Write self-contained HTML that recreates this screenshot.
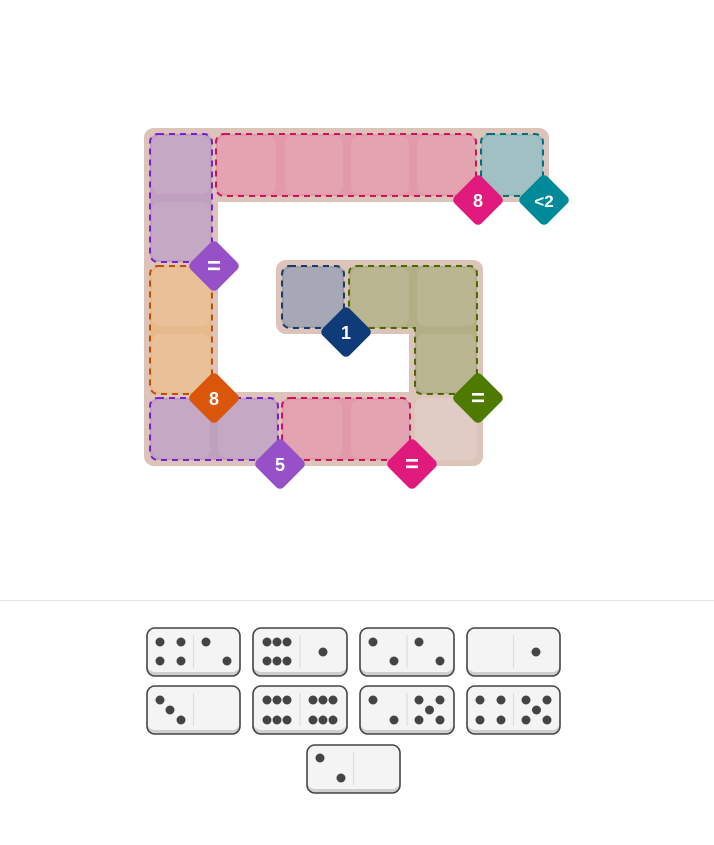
<!DOCTYPE html>
<html><head><meta charset="utf-8"><style>
html,body{margin:0;padding:0;background:#fff;width:714px;height:845px;overflow:hidden}
svg{display:block}
text{font-family:"Liberation Sans",sans-serif;font-weight:bold;fill:#fff;text-anchor:middle}
</style></head><body>
<svg width="714" height="845" viewBox="0 0 714 845">
<g fill="#dcc4ba">
<rect x="144" y="128" width="405" height="74" rx="10"/>
<rect x="144" y="128" width="74" height="338" rx="10"/>
<rect x="144" y="392" width="339" height="74" rx="10"/>
<rect x="276" y="260" width="207" height="74" rx="10"/>
<rect x="409" y="260" width="74" height="206" rx="10"/>
</g>
<g stroke-width="2" stroke-dasharray="6,5">
<rect x="150" y="134" width="62" height="128" rx="8" fill="#c0a0bf" stroke="#7b1fd6"/>
<rect x="216" y="134" width="260" height="62" rx="8" fill="#e29aa9" stroke="#d0105a"/>
<rect x="481" y="134" width="62" height="62" rx="8" fill="#98babd" stroke="#00707c"/>
<rect x="150" y="266" width="62" height="128" rx="8" fill="#e7ba8e" stroke="#c05000"/>
<rect x="282" y="266" width="62" height="62" rx="8" fill="#9ea0ae" stroke="#1a3a70"/>
<path d="M357,266 H469 Q477,266 477,274 V386 Q477,394 469,394 H423 Q415,394 415,386 V328 H357 Q349,328 349,320 V274 Q349,266 357,266 Z" fill="#b2af87" stroke="#4a6a00"/>
<rect x="150" y="398" width="128" height="62" rx="8" fill="#c0a0bf" stroke="#7b1fd6"/>
<rect x="282" y="398" width="128" height="62" rx="8" fill="#e29aa9" stroke="#d0105a"/>
</g>
<rect x="415" y="398" width="62" height="62" rx="8" fill="#e1ccc5"/>
<g fill="#fff" fill-opacity="0.09">
<rect x="152" y="136" width="58" height="58" rx="8"/><rect x="152" y="202" width="58" height="58" rx="8"/>
<rect x="218" y="136" width="58" height="58" rx="8"/><rect x="285" y="136" width="58" height="58" rx="8"/>
<rect x="351" y="136" width="58" height="58" rx="8"/><rect x="417" y="136" width="58" height="58" rx="8"/>
<rect x="483" y="136" width="58" height="58" rx="8"/>
<rect x="152" y="268" width="58" height="58" rx="8"/><rect x="152" y="334" width="58" height="58" rx="8"/>
<rect x="284" y="268" width="58" height="58" rx="8"/><rect x="351" y="268" width="58" height="58" rx="8"/>
<rect x="417" y="268" width="58" height="58" rx="8"/><rect x="417" y="334" width="58" height="58" rx="8"/>
<rect x="152" y="400" width="58" height="58" rx="8"/><rect x="218" y="400" width="58" height="58" rx="8"/>
<rect x="284" y="400" width="58" height="58" rx="8"/><rect x="351" y="400" width="58" height="58" rx="8"/>
</g>
<g>
<rect x="459" y="181" width="38" height="38" rx="5" fill="#e0197d" transform="rotate(45 478 200)"/>
<text x="478" y="207" font-size="18">8</text>
<rect x="525" y="181" width="38" height="38" rx="5" fill="#008a99" transform="rotate(45 544 200)"/>
<text x="544" y="207" font-size="17">&lt;2</text>
<rect x="195" y="247" width="38" height="38" rx="5" fill="#9650c8" transform="rotate(45 214 266)"/>
<text x="214" y="274" font-size="24">=</text>
<rect x="327" y="313" width="38" height="38" rx="5" fill="#0f3b78" transform="rotate(45 346 332)"/>
<text x="346" y="339" font-size="18">1</text>
<rect x="195" y="379" width="38" height="38" rx="5" fill="#d9560b" transform="rotate(45 214 398)"/>
<text x="214" y="405" font-size="18">8</text>
<rect x="459" y="379" width="38" height="38" rx="5" fill="#4f7a00" transform="rotate(45 478 398)"/>
<text x="478" y="406" font-size="24">=</text>
<rect x="261" y="445" width="38" height="38" rx="5" fill="#9650c8" transform="rotate(45 280 464)"/>
<text x="280" y="471" font-size="18">5</text>
<rect x="393" y="445" width="38" height="38" rx="5" fill="#e0197d" transform="rotate(45 412 464)"/>
<text x="412" y="472" font-size="24">=</text>
</g>
<line x1="0" y1="600.5" x2="714" y2="600.5" stroke="#e2e2e2"/>
<g>
<rect x="147" y="628" width="93" height="48" rx="8" fill="#cfcfcf"/><rect x="147" y="628" width="93" height="44" rx="8" fill="#f4f4f4"/><rect x="147" y="628" width="93" height="48" rx="8" fill="none" stroke="#444" stroke-width="1.6"/>
<rect x="253" y="628" width="94" height="48" rx="8" fill="#cfcfcf"/><rect x="253" y="628" width="94" height="44" rx="8" fill="#f4f4f4"/><rect x="253" y="628" width="94" height="48" rx="8" fill="none" stroke="#444" stroke-width="1.6"/>
<rect x="360" y="628" width="94" height="48" rx="8" fill="#cfcfcf"/><rect x="360" y="628" width="94" height="44" rx="8" fill="#f4f4f4"/><rect x="360" y="628" width="94" height="48" rx="8" fill="none" stroke="#444" stroke-width="1.6"/>
<rect x="467" y="628" width="93" height="48" rx="8" fill="#cfcfcf"/><rect x="467" y="628" width="93" height="44" rx="8" fill="#f4f4f4"/><rect x="467" y="628" width="93" height="48" rx="8" fill="none" stroke="#444" stroke-width="1.6"/>
<rect x="147" y="686" width="93" height="48" rx="8" fill="#cfcfcf"/><rect x="147" y="686" width="93" height="44" rx="8" fill="#f4f4f4"/><rect x="147" y="686" width="93" height="48" rx="8" fill="none" stroke="#444" stroke-width="1.6"/>
<rect x="253" y="686" width="94" height="48" rx="8" fill="#cfcfcf"/><rect x="253" y="686" width="94" height="44" rx="8" fill="#f4f4f4"/><rect x="253" y="686" width="94" height="48" rx="8" fill="none" stroke="#444" stroke-width="1.6"/>
<rect x="360" y="686" width="94" height="48" rx="8" fill="#cfcfcf"/><rect x="360" y="686" width="94" height="44" rx="8" fill="#f4f4f4"/><rect x="360" y="686" width="94" height="48" rx="8" fill="none" stroke="#444" stroke-width="1.6"/>
<rect x="467" y="686" width="93" height="48" rx="8" fill="#cfcfcf"/><rect x="467" y="686" width="93" height="44" rx="8" fill="#f4f4f4"/><rect x="467" y="686" width="93" height="48" rx="8" fill="none" stroke="#444" stroke-width="1.6"/>
<rect x="307" y="745" width="93" height="48" rx="8" fill="#cfcfcf"/><rect x="307" y="745" width="93" height="44" rx="8" fill="#f4f4f4"/><rect x="307" y="745" width="93" height="48" rx="8" fill="none" stroke="#444" stroke-width="1.6"/>
</g>
<g stroke="#ddd" stroke-width="1.2">
<line x1="193.5" y1="635" x2="193.5" y2="668"/><line x1="300" y1="635" x2="300" y2="668"/>
<line x1="407" y1="635" x2="407" y2="668"/><line x1="513.5" y1="635" x2="513.5" y2="668"/>
<line x1="193.5" y1="693" x2="193.5" y2="726"/><line x1="300" y1="693" x2="300" y2="726"/>
<line x1="407" y1="693" x2="407" y2="726"/><line x1="513.5" y1="693" x2="513.5" y2="726"/>
<line x1="353.5" y1="752" x2="353.5" y2="785"/>
</g>
<g fill="#444">
<circle cx="160" cy="642" r="4.5"/><circle cx="181" cy="642" r="4.5"/><circle cx="160" cy="661" r="4.5"/><circle cx="181" cy="661" r="4.5"/>
<circle cx="206" cy="642" r="4.5"/><circle cx="227" cy="661" r="4.5"/>
<circle cx="267" cy="642" r="4.5"/><circle cx="277" cy="642" r="4.5"/><circle cx="287" cy="642" r="4.5"/>
<circle cx="267" cy="661" r="4.5"/><circle cx="277" cy="661" r="4.5"/><circle cx="287" cy="661" r="4.5"/>
<circle cx="323" cy="652" r="4.5"/>
<circle cx="373" cy="642" r="4.5"/><circle cx="394" cy="661" r="4.5"/>
<circle cx="419" cy="642" r="4.5"/><circle cx="440" cy="661" r="4.5"/>
<circle cx="536" cy="652" r="4.5"/>
<circle cx="160" cy="700" r="4.5"/><circle cx="170" cy="710" r="4.5"/><circle cx="181" cy="720" r="4.5"/>
<circle cx="267" cy="700" r="4.5"/><circle cx="277" cy="700" r="4.5"/><circle cx="287" cy="700" r="4.5"/>
<circle cx="267" cy="720" r="4.5"/><circle cx="277" cy="720" r="4.5"/><circle cx="287" cy="720" r="4.5"/>
<circle cx="313" cy="700" r="4.5"/><circle cx="323" cy="700" r="4.5"/><circle cx="333" cy="700" r="4.5"/>
<circle cx="313" cy="720" r="4.5"/><circle cx="323" cy="720" r="4.5"/><circle cx="333" cy="720" r="4.5"/>
<circle cx="373" cy="700" r="4.5"/><circle cx="394" cy="720" r="4.5"/>
<circle cx="419" cy="700" r="4.5"/><circle cx="440" cy="700" r="4.5"/><circle cx="429.5" cy="710" r="4.5"/><circle cx="419" cy="720" r="4.5"/><circle cx="440" cy="720" r="4.5"/>
<circle cx="480" cy="700" r="4.5"/><circle cx="501" cy="700" r="4.5"/><circle cx="480" cy="720" r="4.5"/><circle cx="501" cy="720" r="4.5"/>
<circle cx="526" cy="700" r="4.5"/><circle cx="547" cy="700" r="4.5"/><circle cx="536.5" cy="710" r="4.5"/><circle cx="526" cy="720" r="4.5"/><circle cx="547" cy="720" r="4.5"/>
<circle cx="320" cy="758" r="4.5"/><circle cx="341" cy="778" r="4.5"/>
</g>
</svg>
</body></html>
